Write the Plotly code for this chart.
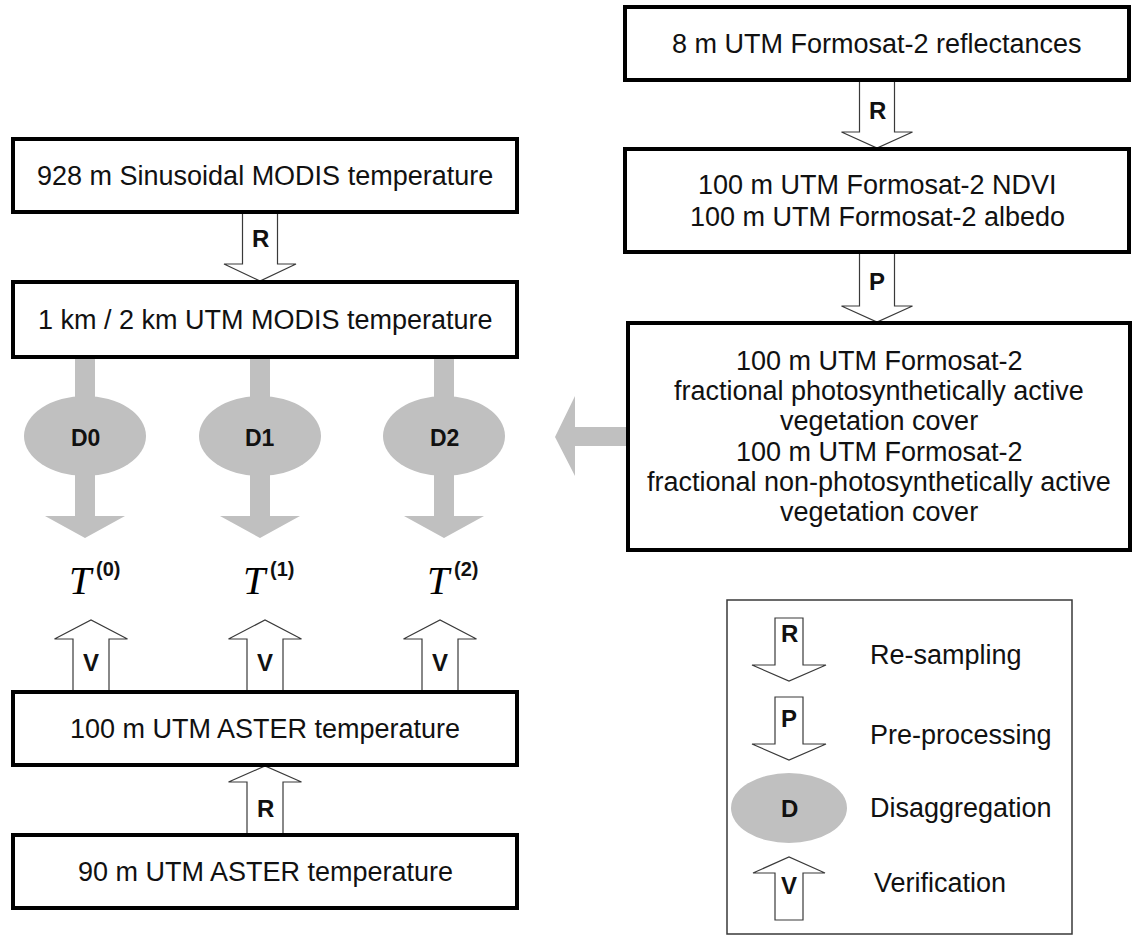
import plotly.graph_objects as go

# Text content of the flowchart
left_boxes = ["928 m Sinusoidal MODIS temperature",
              "1 km / 2 km UTM MODIS temperature",
              "100 m UTM ASTER temperature",
              "90 m UTM ASTER temperature"]
right_boxes = [["8 m UTM Formosat-2 reflectances"],
               ["100 m UTM Formosat-2 NDVI", "100 m UTM Formosat-2 albedo"],
               ["100 m UTM Formosat-2", "fractional photosynthetically active", "vegetation cover",
                "100 m UTM Formosat-2", "fractional non-photosynthetically active", "vegetation cover"]]
methods = ["D0", "D1", "D2"]
outputs = ["(0)", "(1)", "(2)"]
legend_keys = ["R", "P", "D", "V"]
legend_labels = ["Re-sampling", "Pre-processing", "Disaggregation", "Verification"]

# Geometry (pixel space of a 1135 x 938 canvas, y down)
W, H = 1135, 938
left_x = (13, 517)
left_y = [(139, 212), (282, 357), (692, 765), (835, 908)]
right_x = [(625, 1129), (625, 1129), (628, 1130)]
right_y = [(7, 80), (149, 252), (323, 550)]
right_line_gap = [0, 32, 30.2]
d_cx = [85, 260, 444]
v_cx = [91, 265, 440]
t_cx = [81, 255, 439]

SANS = "Liberation Sans, Arial, sans-serif"
GRAY = "#c0c0c0"
OUTLINE = "#3a3a3a"

shapes = []
annotations = []


def rect(x0, y0, x1, y1, width=4, color="black"):
    shapes.append(dict(type="rect", x0=x0, y0=y0, x1=x1, y1=y1,
                       line=dict(color=color, width=width), fillcolor="white"))


def block_arrow(cx, y0, y1, y2, hw, hh, fill="white", line_w=1.2):
    # shaft from y0 to y1, head from y1 to tip y2 (works up or down)
    p = (f"M {cx-hw},{y0} L {cx-hw},{y1} L {cx-hh},{y1} L {cx},{y2} "
         f"L {cx+hh},{y1} L {cx+hw},{y1} L {cx+hw},{y0} Z")
    shapes.append(dict(type="path", path=p, fillcolor=fill,
                       line=dict(color=OUTLINE if line_w else fill, width=line_w)))


def text(x, y, s, size=27, bold=False, anchor="center", family=SANS, color="#111"):
    if bold:
        s = f"<b>{s}</b>"
    annotations.append(dict(x=x, y=y, xref="x", yref="y", text=s, showarrow=False,
                            xanchor=anchor, yanchor="middle",
                            font=dict(family=family, size=size, color=color)))


# Hollow process arrows
block_arrow(260, 212, 264, 281, 17.5, 36)        # R  928 m -> 1 km
block_arrow(877, 80, 132, 148, 17.5, 35.5)       # R  8 m -> 100 m
block_arrow(877, 252, 306, 322, 17.5, 35.5)      # P  -> fractional cover
block_arrow(265, 835, 782, 766, 18, 36.5)        # R  90 m -> 100 m ASTER
for cx in v_cx:
    block_arrow(cx, 692, 639, 620, 18, 36.5)     # V

# Gray disaggregation arrows
for cx in d_cx:
    shapes.append(dict(type="rect", x0=cx - 10, y0=357, x1=cx + 10, y1=410,
                       fillcolor=GRAY, line=dict(width=0)))
    block_arrow(cx, 460, 516, 538, 10, 40, fill=GRAY, line_w=0)
    shapes.append(dict(type="circle", x0=cx - 61, y0=396, x1=cx + 61, y1=476,
                       fillcolor=GRAY, line=dict(width=0)))
shapes.append(dict(type="path",
                   path="M 628,427 L 575,427 L 575,396 L 555,437 L 575,476 L 575,446 L 628,446 Z",
                   fillcolor=GRAY, line=dict(width=0)))

# Boxes
for (y0, y1), label in zip(left_y, left_boxes):
    rect(left_x[0], y0, left_x[1], y1)
    text((left_x[0] + left_x[1]) / 2, (y0 + y1) / 2, label)
for (x0, x1), (y0, y1), lines, gap in zip(right_x, right_y, right_boxes, right_line_gap):
    rect(x0, y0, x1, y1)
    yc = (y0 + y1) / 2
    for i, ln in enumerate(lines):
        text((x0 + x1) / 2, yc + (i - (len(lines) - 1) / 2) * gap, ln)

# Arrow letters
text(260, 238, "R", 24, True)
text(877, 110, "R", 24, True)
text(877, 281, "P", 24, True)
text(265, 808, "R", 24, True)
for cx in v_cx:
    text(cx, 662, "V", 24, True)
for cx, m in zip(d_cx, methods):
    text(cx, 438, m, 23, True)

# Outputs T^(k)
for cx, sup in zip(t_cx, outputs):
    text(cx, 580, "<i>T</i>", 40, family="Liberation Serif, Times New Roman, serif", color="black")
    text(cx + 13, 569, sup, 20, True, anchor="left")

# Legend
rect(727, 600, 1072, 934, width=1.5, color=OUTLINE)
block_arrow(789, 618, 665, 681, 14, 37)
block_arrow(789, 697, 744, 760, 14, 37)
shapes.append(dict(type="circle", x0=731, y0=773, x1=847, y1=843,
                   fillcolor=GRAY, line=dict(width=0)))
block_arrow(789, 920, 873, 857, 14, 36)
for y, key in zip([633, 718, 808, 885], legend_keys):
    text(789, y, key, 24, True)
for (x, y), lab in zip([(868, 655), (868, 735), (868, 808), (872, 883)], legend_labels):
    text(x, y, lab, 27, anchor="left")

fig = go.Figure()
fig.update_layout(width=W, height=H, autosize=False,
                  margin=dict(l=0, r=0, t=0, b=0),
                  paper_bgcolor="white", plot_bgcolor="white",
                  shapes=shapes, annotations=annotations, showlegend=False)
fig.update_xaxes(range=[0, W], visible=False, fixedrange=True)
fig.update_yaxes(range=[H, 0], visible=False, fixedrange=True)

fig.write_html("out.html", config={"displayModeBar": False},
               post_script="document.body.style.margin='0';")
